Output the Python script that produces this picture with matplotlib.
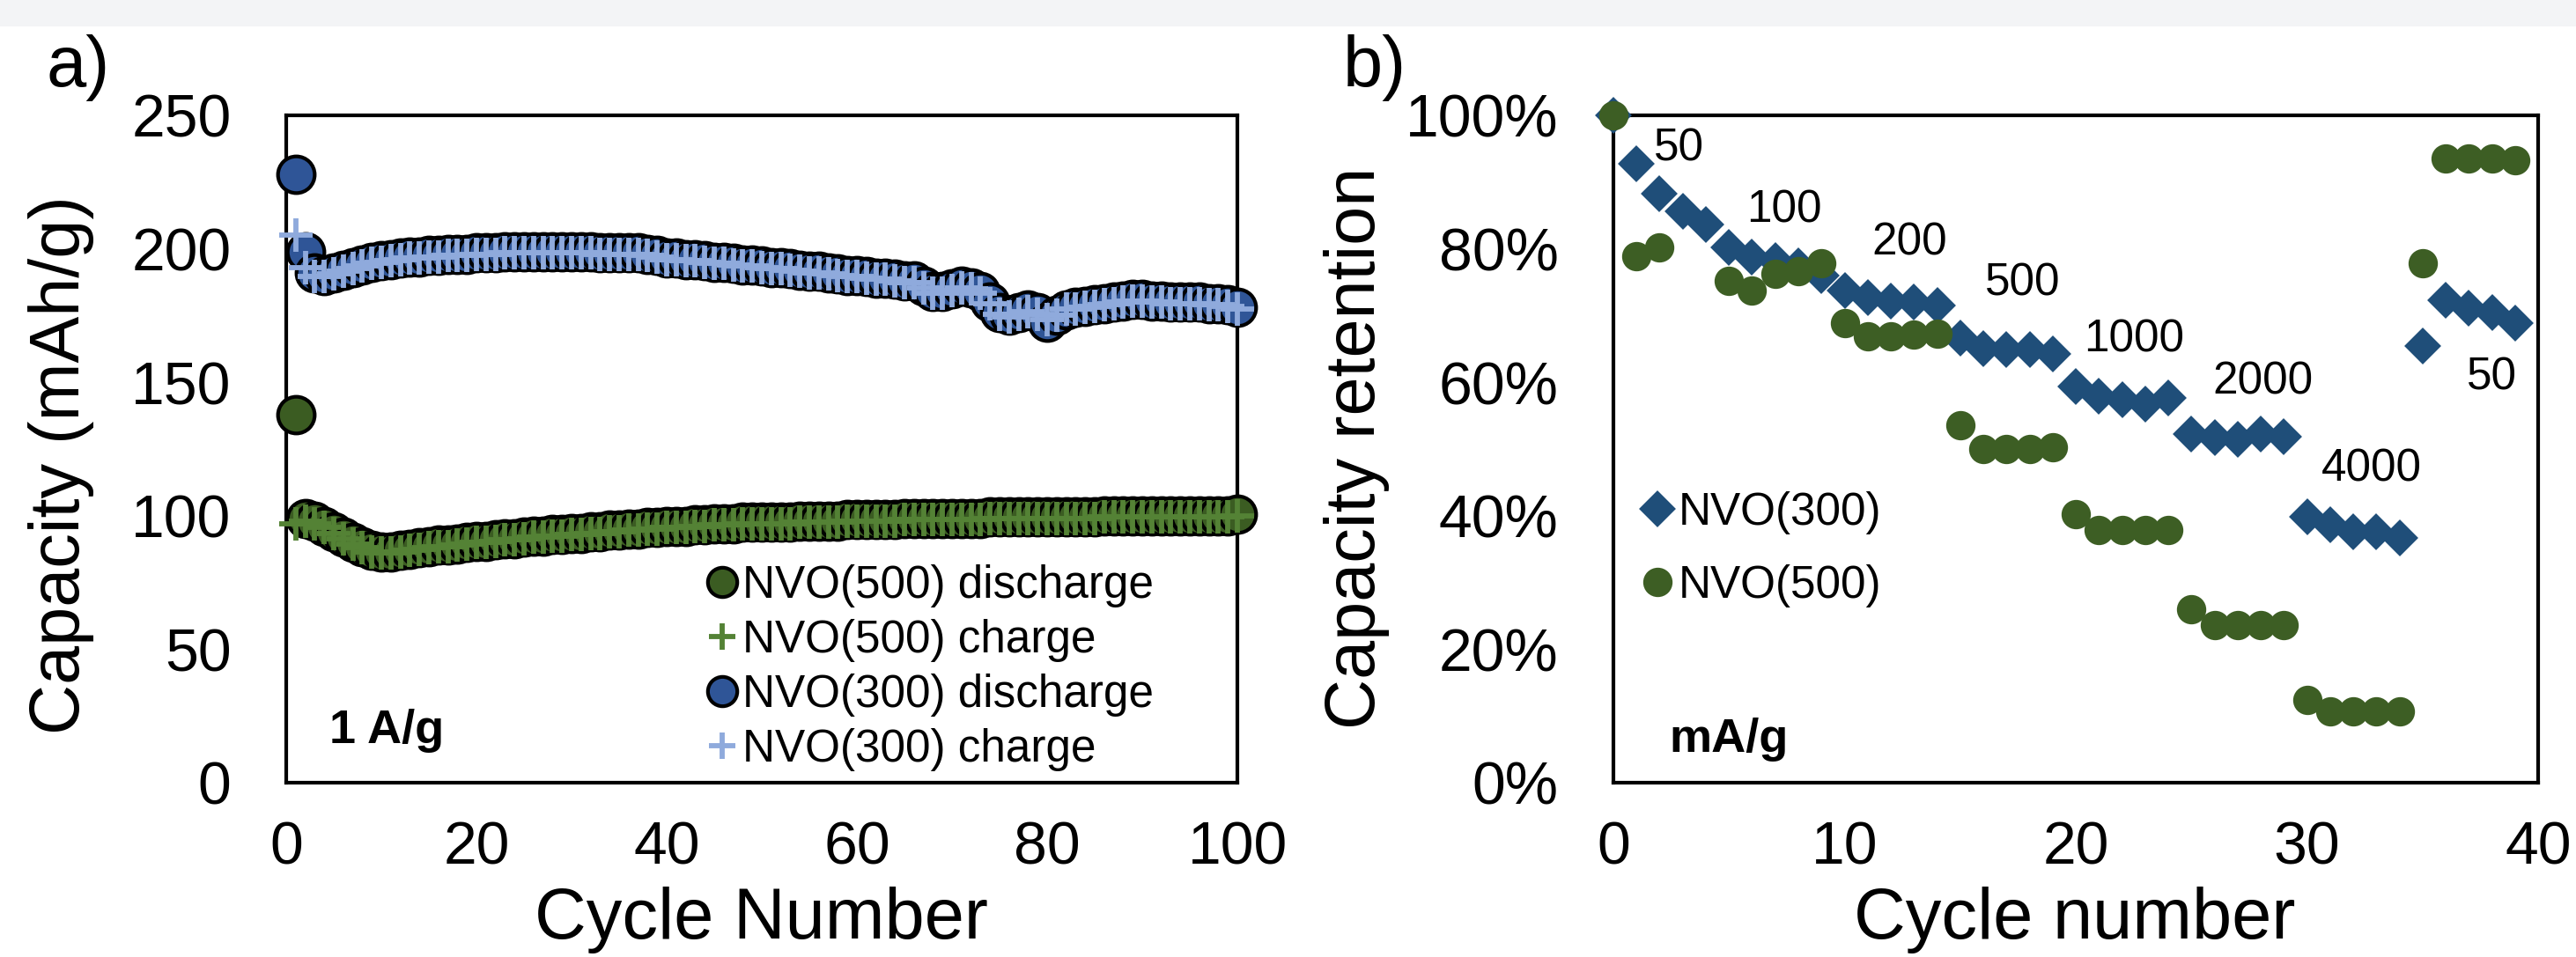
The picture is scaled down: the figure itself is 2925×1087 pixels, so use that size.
import numpy as np
import matplotlib
matplotlib.use("Agg")
import matplotlib.pyplot as plt
from matplotlib.ticker import FuncFormatter
from matplotlib.patches import Rectangle

plt.rcParams['font.family'] = ['Liberation Sans', 'DejaVu Sans']

# ---- panel a: capacity vs cycle at 1 A/g ----
cycles = list(range(1, 101))

nvo300_dis = [228, 199, 191, 190, 191, 192, 193, 194, 195, 195.5,
              196, 196.5, 197, 197, 197.5, 197.5, 198, 198, 198, 198.5,
              198.5, 198.5, 199, 199, 199, 199, 199, 199, 199, 199,
              199, 199, 198.5, 198.5, 198.5, 198.5, 198.5, 198, 197.5, 196.5,
              196.5, 196, 196, 195.5, 195, 195, 194.5, 194, 194, 193.5,
              193, 193, 192.5, 192, 191.5, 191.5, 191, 190.5, 190, 190,
              189.5, 189, 189, 188.5, 188, 188, 186, 184, 184, 185,
              186, 185.5, 184, 180, 176, 175, 176, 177, 176, 172.5,
              175, 177, 178, 178.5, 179, 179.5, 180, 180.5, 181, 181,
              180.5, 180.5, 180, 180, 180, 180, 179.5, 179.5, 179, 178]

nvo300_chg = [205, 193, 189.5, 189.5, 190.5, 191.5, 192.5, 193.5, 194.5, 195,
              195.5, 196, 196.5, 196.5, 197, 197, 197.5, 197.5, 197.5, 198,
              198, 198, 198.5, 198.5, 198.5, 198.5, 198.5, 198.5, 198.5, 198.5,
              198.5, 198.5, 198, 198, 198, 198, 198, 197.5, 197, 196,
              196, 195.5, 195.5, 195, 194.5, 194.5, 194, 193.5, 193.5, 193,
              192.5, 192.5, 192, 191.5, 191, 191, 190.5, 190, 189.5, 189.5,
              189, 188.5, 188.5, 188, 187.5, 187.5, 185.5, 183.5, 183.5, 184.5,
              185.5, 185, 183.5, 179.5, 175.5, 174.5, 175.5, 176.5, 175.5, 173.5,
              175, 177.5, 177.5, 178, 178.5, 179, 179.5, 180, 180.5, 180.5,
              180, 180, 179.5, 179.5, 179.5, 179.5, 179, 179, 178.5, 177.5]

nvo500_dis = [138, 99, 98, 96, 94, 92, 90, 88.5, 87, 86.5,
              86.5, 87, 87.5, 88, 88.5, 89, 89, 89.5, 90, 90.5,
              90.5, 91, 91.5, 91.5, 92, 92.5, 92.5, 93, 93, 93.5,
              93.5, 94, 94, 94.5, 94.5, 95, 95, 95.5, 95.5, 96,
              96, 96, 96.5, 96.5, 97, 97, 97, 97.5, 97.5, 97.5,
              97.5, 97.5, 97.5, 98, 98, 98, 98, 98, 98.5, 98.5,
              98.5, 98.5, 98.5, 98.5, 99, 99, 99, 99, 99, 99,
              99, 99, 99, 99.5, 99.5, 99.5, 99.5, 99.5, 99.5, 99.5,
              99.5, 99.5, 99.5, 99.5, 99.5, 100, 100, 100, 100, 100,
              100, 100, 100, 100, 100, 100, 100, 100, 100, 100.5]

nvo500_chg = [97, 98, 97, 95.5, 93.5, 91.5, 89.5, 88, 86.5, 86,
              86, 86.5, 87, 87.5, 88, 88.5, 88.5, 89, 89.5, 90,
              90, 90.5, 91, 91, 91.5, 92, 92, 92.5, 92.5, 93,
              93, 93.5, 93.5, 94, 94, 94.5, 94.5, 95, 95, 95.5,
              95.5, 95.5, 96, 96, 96.5, 96.5, 96.5, 97, 97, 97,
              97, 97, 97, 97.5, 97.5, 97.5, 97.5, 97.5, 98, 98,
              98, 98, 98, 98, 98.5, 98.5, 98.5, 98.5, 98.5, 98.5,
              98.5, 98.5, 98.5, 99, 99, 99, 99, 99, 99, 99,
              99, 99, 99, 99, 99, 99.5, 99.5, 99.5, 99.5, 99.5,
              99.5, 99.5, 99.5, 99.5, 99.5, 99.5, 99.5, 99.5, 99.5, 100]

# ---- panel b: rate capability ----
rate_cycles = list(range(0, 40))
ret300 = [100, 92.8, 88.3, 85.6, 83.6, 80.2, 78.7, 78.2, 77.4, 76.0,
          73.7, 72.7, 72.1, 72.0, 71.5, 66.6, 65.1, 64.9, 64.9, 64.2,
          59.4, 57.9, 57.4, 56.7, 57.7, 52.3, 51.7, 51.5, 52.3, 51.9,
          39.8, 38.6, 37.6, 37.6, 36.7, 65.4, 72.3, 71.1, 70.5, 68.9]
ret500 = [100, 78.9, 80.2, np.nan, np.nan, 75.2, 73.8, 76.3, 76.6, 77.9,
          68.9, 66.9, 66.9, 67.1, 67.3, 53.5, 50.0, 50.0, 50.0, 50.2,
          40.3, 37.8, 37.8, 37.9, 37.9, 26.0, 23.6, 23.6, 23.6, 23.6,
          12.4, 10.7, 10.7, 10.7, 10.7, 77.9, 93.5, 93.5, 93.5, 93.3]

rate_labels = ["50", "100", "200", "500", "1000", "2000", "4000", "50"]
rate_label_x = [2.85, 7.4, 12.8, 17.7, 22.5, 28.1, 32.8, 38.0]
rate_label_y = [95.0, 85.7, 80.9, 74.8, 66.4, 60.0, 47.0, 60.7]

# colours
c500_dis = '#3b5c22'
c500_chg = '#548235'
c300_dis = '#2f5597'
c300_chg = '#8faadc'
c_diamond = '#1f4e79'
c_circle = '#3d5e24'

tick_fs = 16.3
label_fs = 19.5
ylabel_fs = 19.0
small_fs = 12.3

fig = plt.figure(figsize=(9.75, 1087 / 300), dpi=300)
fig.add_artist(Rectangle((0, 1 - 28 / 1087), 1, 28 / 1087,
                         transform=fig.transFigure, color='#f3f4f6', zorder=0))

ax1 = fig.add_axes([325 / 2925, 1 - 889 / 1087, 1080 / 2925, 758 / 1087])
ax2 = fig.add_axes([1832 / 2925, 1 - 889 / 1087, 1050 / 2925, 758 / 1087])

# panel a
ax1.plot(cycles, nvo500_dis, 'o', ms=10.0, mfc=c500_dis, mec='black', mew=1.0,
         label='NVO(500) discharge', clip_on=False, zorder=3)
ax1.plot(cycles, nvo500_chg, '+', ms=9.0, mec=c500_chg, mew=1.4,
         label='NVO(500) charge', clip_on=False, zorder=4)
ax1.plot(cycles, nvo300_dis, 'o', ms=10.0, mfc=c300_dis, mec='black', mew=1.0,
         label='NVO(300) discharge', clip_on=False, zorder=5)
ax1.plot(cycles, nvo300_chg, '+', ms=9.0, mec=c300_chg, mew=1.4,
         label='NVO(300) charge', clip_on=False, zorder=6)

ax1.set_xlim(0, 100)
ax1.set_ylim(0, 250)
ax1.set_xticks(range(0, 101, 20))
ax1.set_yticks(range(0, 251, 50))
ax1.legend(loc='upper left', bbox_to_anchor=(0.439, 0.327), frameon=False,
           fontsize=small_fs, handlelength=0.8, handletextpad=0.05,
           labelspacing=0.25, borderpad=0, borderaxespad=0, markerscale=0.8)
ax1.text(4.5, 14.8, '1 A/g', fontsize=13, fontweight='bold', va='baseline')

# panel b
ax2.plot(rate_cycles, ret300, 'D', ms=6.0, color=c_diamond, mec=c_diamond,
         label='NVO(300)', clip_on=False, zorder=3)
ax2.plot(rate_cycles, ret500, 'o', ms=7.0, color=c_circle, mec=c_circle,
         label='NVO(500)', clip_on=False, zorder=4)
for t, x, y in zip(rate_labels, rate_label_x, rate_label_y):
    ax2.text(x, y, t, fontsize=small_fs, ha='center', va='center')
ax2.set_xlim(0, 40)
ax2.set_ylim(0, 100)
ax2.set_xticks(range(0, 41, 10))
ax2.set_yticks(range(0, 101, 20))
ax2.yaxis.set_major_formatter(FuncFormatter(lambda v, p: f"{v:.0f}%"))
ax2.legend(loc='upper left', bbox_to_anchor=(0.031, 0.437), frameon=False,
           fontsize=small_fs, handlelength=0.7, handletextpad=0.1,
           labelspacing=0.67, borderpad=0, borderaxespad=0)
ax2.text(2.4, 4.6, 'mA/g', fontsize=13, fontweight='bold', va='baseline')

for ax in (ax1, ax2):
    for s in ax.spines.values():
        s.set_linewidth(1.0)
        s.set_color('black')
    ax.tick_params(length=0, labelsize=tick_fs, colors='black')
    ax.tick_params(axis='x', pad=10.3)
    ax.tick_params(axis='y', pad=15)

fig.text(0.2957, 1 - 1066 / 1087, 'Cycle Number', fontsize=label_fs,
         ha='center', va='baseline')
fig.text(0.8054, 1 - 1066 / 1087, 'Cycle number', fontsize=label_fs,
         ha='center', va='baseline')
fig.text(0.0239, 0.514, 'Capacity (mAh/g)', fontsize=ylabel_fs, rotation=90,
         ha='center', va='center')
fig.text(0.5268, 0.532, 'Capacity retention', fontsize=ylabel_fs, rotation=90,
         ha='center', va='center')
fig.text(53 / 2925, 1 - 98 / 1087, 'a)', fontsize=label_fs, va='baseline')
fig.text(1525 / 2925, 1 - 98 / 1087, 'b)', fontsize=label_fs, va='baseline')

fig.savefig('out.png', dpi=300)
